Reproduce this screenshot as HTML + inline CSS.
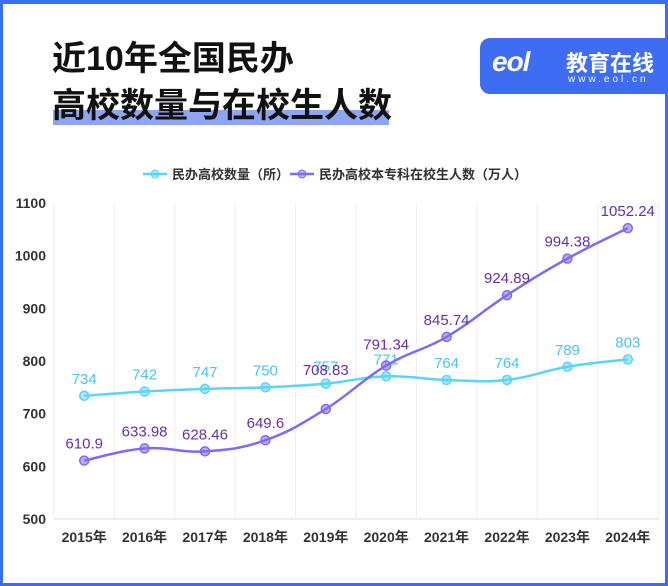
<!DOCTYPE html>
<html><head><meta charset="utf-8"><style>
body{margin:0;width:668px;height:585px;overflow:hidden;background:#fff;font-family:"Liberation Sans","Noto Sans CJK SC",sans-serif;}
#frame{position:absolute;left:0;top:0;width:662px;height:579px;border:3px solid #3e6cf2;border-top-width:4px;background:#fff;}
.t{position:absolute;left:52px;font-size:34px;font-weight:bold;color:#111;letter-spacing:0px;}
#hl{position:absolute;left:53px;top:110px;width:336px;height:15px;background:#8ea5f1;}
#logo{position:absolute;left:480px;top:38px;width:188px;height:56px;background:#3e6cf2;border-radius:10px 0 0 10px;color:#fff;}
</style></head><body>
<div id="frame"></div>
<div id="hl"></div>
<div class="t" style="top:31px">近10年全国民办</div>
<div class="t" style="top:78px">高校数量与在校生人数</div>
<div id="logo">
<div style="position:absolute;left:12px;top:8px;font-size:28px;font-style:italic;font-weight:bold;letter-spacing:-1px">eol</div>
<div style="position:absolute;left:86px;top:8px;font-size:22px;font-weight:bold">教育在线</div>
<div style="position:absolute;left:88px;top:36px;font-size:10px;letter-spacing:3px">www.eol.cn</div>
</div>
<svg id="chart" width="668" height="585" style="position:absolute;left:0;top:0"></svg>
<script>
const categories=["2015年","2016年","2017年","2018年","2019年","2020年","2021年","2022年","2023年","2024年"];
const schools=[734,742,747,750,757,771,764,764,789,803];
const students=[610.9,633.98,628.46,649.6,708.83,791.34,845.74,924.89,994.38,1052.24];
const studentLabels=["610.9","633.98","628.46","649.6","708.83","791.34","845.74","924.89","994.38","1052.24"];
const yTicks=[500,600,700,800,900,1000,1100];
const svg=document.getElementById('chart');const NS='http://www.w3.org/2000/svg';
const x0=54,bw=60.4,yBase=519,yTop=203,yMin=500,yMax=1100;
const X=i=>x0+bw*(i+0.5);const Y=v=>yBase-(v-yMin)/(yMax-yMin)*(yBase-yTop);
function mk(t,a,p){const e=document.createElementNS(NS,t);for(const k in a)e.setAttribute(k,a[k]);(p||svg).appendChild(e);return e;}
for(let i=0;i<=categories.length;i++){const g=mk('line',{x1:x0+bw*i,x2:x0+bw*i,y1:yTop,y2:yBase,stroke:'#eee'});

}
const ax=mk('line',{x1:x0,x2:x0+bw*10,y1:yBase,y2:yBase,stroke:'#ddd'});


yTicks.forEach(v=>{const t=mk('text',{x:46,y:Y(v)+5,'text-anchor':'end','font-size':14,'font-weight':'bold',fill:'#333'});t.textContent=v;

});
categories.forEach((c,i)=>{const t=mk('text',{x:X(i),y:542,'text-anchor':'middle','font-size':14,'font-weight':'bold',fill:'#333'});t.textContent=c;

});
function path(vals){const p=vals.map((v,i)=>[X(i),Y(v)]);let d='M'+p[0];const k=0.2;
for(let i=0;i<p.length-1;i++){const a=p[i-1]||p[i],b=p[i],c=p[i+1],e=p[i+2]||c;
d+=' C'+(b[0]+(c[0]-a[0])*k)+','+(b[1]+(c[1]-a[1])*k)+' '+(c[0]-(e[0]-b[0])*k)+','+(c[1]-(e[1]-b[1])*k)+' '+c[0]+','+c[1];}return d;}
function series(vals,labels,col,lc,name,extra){const l=mk('path',{d:path(vals),fill:'none',stroke:col,'stroke-width':2.5});


vals.forEach((v,i)=>{const c=mk('circle',{cx:X(i),cy:Y(v),r:4.5,fill:col,'fill-opacity':0.55,stroke:col,'stroke-width':1.5});


const t=mk('text',{x:X(i),y:Y(v)-12-(extra[i]||0),'text-anchor':'middle','font-size':15,fill:lc});t.textContent=labels[i];

});}
series(schools,schools.map(String),'#5dd3f7','#4cc3f0','schools',{});
series(students,studentLabels,'#7d6cf2','#6b2fa3','students',{4:22,5:4});
function legend(x,col,txt){const l=mk('line',{x1:x,x2:x+24,y1:174,y2:174,stroke:col,'stroke-width':2.5});


const c=mk('circle',{cx:x+12,cy:174,r:4,fill:col,'fill-opacity':0.55,stroke:col});


const t=mk('text',{x:x+29,y:179,'font-size':13,'font-weight':'bold',fill:'#333'});t.textContent=txt;

}
legend(143,'#5dd3f7','民办高校数量（所）');
legend(290,'#7d6cf2','民办高校本专科在校生人数（万人）');
</script>
</body></html>
